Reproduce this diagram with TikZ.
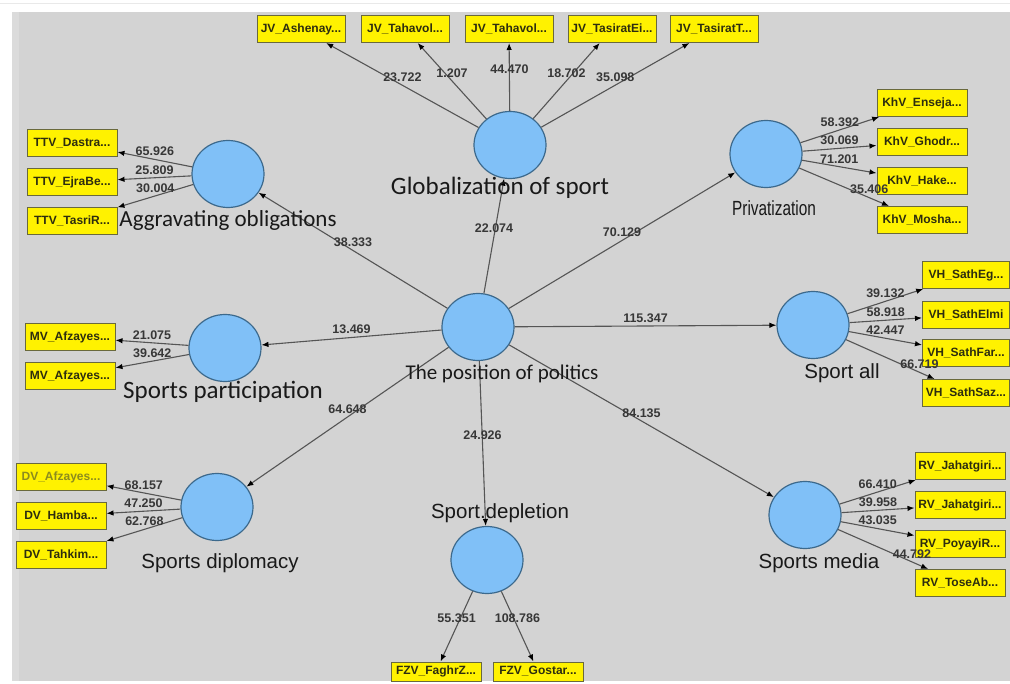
\documentclass[tikz,border=0pt]{standalone}
\usepackage{graphicx}
\usepackage{fontspec}
\setmainfont{Liberation Sans}
\newfontfamily\calfont{Carlito}
\usetikzlibrary{shapes.geometric,arrows.meta}

\definecolor{panel}{RGB}{211,211,211}
\definecolor{panelrim}{RGB}{219,219,219}
\definecolor{topline}{RGB}{233,233,233}
\definecolor{lvfill}{RGB}{128,192,247}
\definecolor{lvline}{RGB}{60,105,140}
\definecolor{indline}{RGB}{105,105,60}
\definecolor{indtext}{RGB}{45,45,15}
\definecolor{indolive}{RGB}{140,140,30}
\definecolor{edgegray}{RGB}{85,85,85}
\definecolor{numgray}{RGB}{55,55,55}
\definecolor{nametext}{RGB}{25,25,25}

\begin{document}
\begin{tikzpicture}[
      x=1pt, y=-1pt,
      lv/.style={ellipse, draw=lvline, fill=lvfill, line width=1.2pt, minimum width=72pt, minimum height=67pt, inner sep=0pt},
      ind/.style={draw=indline, fill=yellow, line width=1pt, minimum width=90pt, minimum height=27pt, inner sep=0pt, text=indtext, font=\bfseries\fontsize{12}{14}\selectfont},
      cname/.style={text=nametext, inner sep=0pt, font=\calfont\fontsize{25}{28}\selectfont},
      aname/.style={text=nametext, inner sep=0pt, font=\fontsize{20.5}{23}\selectfont},
      arrow/.style={-{Latex[length=7pt,width=5.5pt,color=black]}, draw=edgegray, line width=1.1pt},
      val/.style={text=numgray, inner sep=0pt, font=\bfseries\fontsize{12.5}{14}\selectfont}
    ]
    \useasboundingbox (0,0) rectangle (1010,684);
    \fill[white] (0,0) rectangle (1010,684);
    \draw[line width=1pt, topline] (0,4) -- (1010,4);
    \fill[panel] (12,12) rectangle (1010,681);
    \fill[panelrim] (12,12) rectangle (19,681);

    % latent variables
    \node[lv] (pol) at (478,327) {};
    \node[lv] (glob) at (510,145) {};
    \node[lv] (aggr) at (228,174) {};
    \node[lv] (priv) at (766,154) {};
    \node[lv] (spall) at (813,325) {};
    \node[lv] (part) at (225,348) {};
    \node[lv] (dipl) at (217,507) {};
    \node[lv] (media) at (805,515) {};
    \node[lv] (depl) at (487,560) {};

    % indicators
    \node[ind, minimum width=88pt] (jv1) at (301,29) {JV\_Ashenay...};
    \node[ind, minimum width=88pt] (jv2) at (405,29) {JV\_Tahavol...};
    \node[ind, minimum width=88pt] (jv3) at (509,29) {JV\_Tahavol...};
    \node[ind, minimum width=88pt] (jv4) at (612,29) {JV\_TasiratEi...};
    \node[ind, minimum width=88pt] (jv5) at (714,29) {JV\_TasiratT...};

    \node[ind] (ttv1) at (72,143) {TTV\_Dastra...};
    \node[ind] (ttv2) at (72,182) {TTV\_EjraBe...};
    \node[ind] (ttv3) at (72,221) {TTV\_TasriR...};

    \node[ind] (khv1) at (922,103) {KhV\_Enseja...};
    \node[ind] (khv2) at (922,142) {KhV\_Ghodr...};
    \node[ind] (khv3) at (922,181) {KhV\_Hake...};
    \node[ind] (khv4) at (922,220) {KhV\_Mosha...};

    \node[ind, minimum width=87pt] (vh1) at (966,275) {VH\_SathEg...};
    \node[ind, minimum width=87pt] (vh2) at (966,315) {VH\_SathElmi};
    \node[ind, minimum width=87pt] (vh3) at (966,353) {VH\_SathFar...};
    \node[ind, minimum width=87pt] (vh4) at (966,393) {VH\_SathSaz...};

    \node[ind] (mv1) at (70,337) {MV\_Afzayes...};
    \node[ind] (mv2) at (70,376) {MV\_Afzayes...};

    \node[ind, text=indolive] (dv1) at (61,477) {DV\_Afzayes...};
    \node[ind] (dv2) at (61,516) {DV\_Hamba...};
    \node[ind] (dv3) at (61,555) {DV\_Tahkim...};

    \node[ind] (rv1) at (960,466) {RV\_Jahatgiri...};
    \node[ind] (rv2) at (960,505) {RV\_Jahatgiri...};
    \node[ind] (rv3) at (960,544) {RV\_PoyayiR...};
    \node[ind] (rv4) at (960,583) {RV\_ToseAb...};

    \node[ind, minimum height=19pt] (fzv1) at (436,671.5) {FZV\_FaghrZ...};
    \node[ind, minimum height=19pt] (fzv2) at (538,671.5) {FZV\_Gostar...};

    % inner model
    \draw[arrow] (pol) -- node[val, midway, above=3pt] {22.074} (glob);
    \draw[arrow] (pol) -- node[val, midway, above=3pt] {38.333} (aggr);
    \draw[arrow] (pol) -- node[val, midway, above=3pt] {70.129} (priv);
    \draw[arrow] (pol) -- node[val, midway, above=3pt] {115.347} (spall);
    \draw[arrow] (pol) -- node[val, midway, above=3pt] {13.469} (part);
    \draw[arrow] (pol) -- node[val, midway, above=3pt] {64.648} (dipl);
    \draw[arrow] (pol) -- node[val, midway, above=3pt] {24.926} (depl);
    \draw[arrow] (pol) -- node[val, midway, above=3pt] {84.135} (media);

    % outer model
    \draw[arrow] (glob) -- node[val, midway, above=3pt] {23.722} (jv1);
    \draw[arrow] (glob) -- node[val, midway, above=3pt] {1.207} (jv2);
    \draw[arrow] (glob) -- node[val, midway, above=3pt] {44.470} (jv3);
    \draw[arrow] (glob) -- node[val, midway, above=3pt] {18.702} (jv4);
    \draw[arrow] (glob) -- node[val, midway, above=3pt] {35.098} (jv5);

    \draw[arrow] (aggr) -- node[val, midway, above=3pt] {65.926} (ttv1);
    \draw[arrow] (aggr) -- node[val, midway, above=3pt] {25.809} (ttv2);
    \draw[arrow] (aggr) -- node[val, midway, above=3pt] {30.004} (ttv3);

    \draw[arrow] (priv) -- node[val, midway, above=3pt] {58.392} (khv1);
    \draw[arrow] (priv) -- node[val, midway, above=3pt] {30.069} (khv2);
    \draw[arrow] (priv) -- node[val, midway, above=3pt] {71.201} (khv3);
    \draw[arrow] (priv) -- node[val, pos=0.78, above=3pt] {35.406} (khv4);

    \draw[arrow] (spall) -- node[val, midway, above=3pt] {39.132} (vh1);
    \draw[arrow] (spall) -- node[val, midway, above=3pt] {58.918} (vh2);
    \draw[arrow] (spall) -- node[val, midway, above=3pt] {42.447} (vh3);
    \draw[arrow] (spall) -- node[val, pos=0.83, above=3pt] {66.719} (vh4);

    \draw[arrow] (part) -- node[val, midway, above=3pt] {21.075} (mv1);
    \draw[arrow] (part) -- node[val, midway, above=3pt] {39.642} (mv2);

    \draw[arrow] (dipl) -- node[val, midway, above=3pt] {68.157} (dv1);
    \draw[arrow] (dipl) -- node[val, midway, above=3pt] {47.250} (dv2);
    \draw[arrow] (dipl) -- node[val, midway, above=3pt] {62.768} (dv3);

    \draw[arrow] (media) -- node[val, midway, above=3pt] {66.410} (rv1);
    \draw[arrow] (media) -- node[val, midway, above=3pt] {39.958} (rv2);
    \draw[arrow] (media) -- node[val, midway, above=3pt] {43.035} (rv3);
    \draw[arrow] (media) -- node[val, pos=0.82, above=3pt] {44.792} (rv4);

    \draw[arrow] (depl) -- node[val, midway, above=3pt] {55.351} (fzv1);
    \draw[arrow] (depl) -- node[val, midway, above=3pt] {108.786} (fzv2);

    % construct names
    \node[cname] (glob-t) at (500,188) {Globalization of sport};
    \node[cname, font=\calfont\fontsize{23}{26}\selectfont] (aggr-t) at (228,220) {Aggravating obligations};
    \node[cname] (part-t) at (223,392) {Sports participation};
    \node[cname, font=\calfont\fontsize{21}{24}\selectfont] (pol-t) at (502,374) {The position of politics};
    \node[aname] (priv-t) at (774,208) {\scalebox{0.75}[1]{Privatization}};
    \node[aname] (spall-t) at (842,373) {Sport all};
    \node[aname] (dipl-t) at (220,563) {Sports diplomacy};
    \node[aname] (media-t) at (819,563) {Sports media};
    \node[aname] (depl-t) at (500,513) {Sport.depletion};
  \end{tikzpicture}
\end{document}
